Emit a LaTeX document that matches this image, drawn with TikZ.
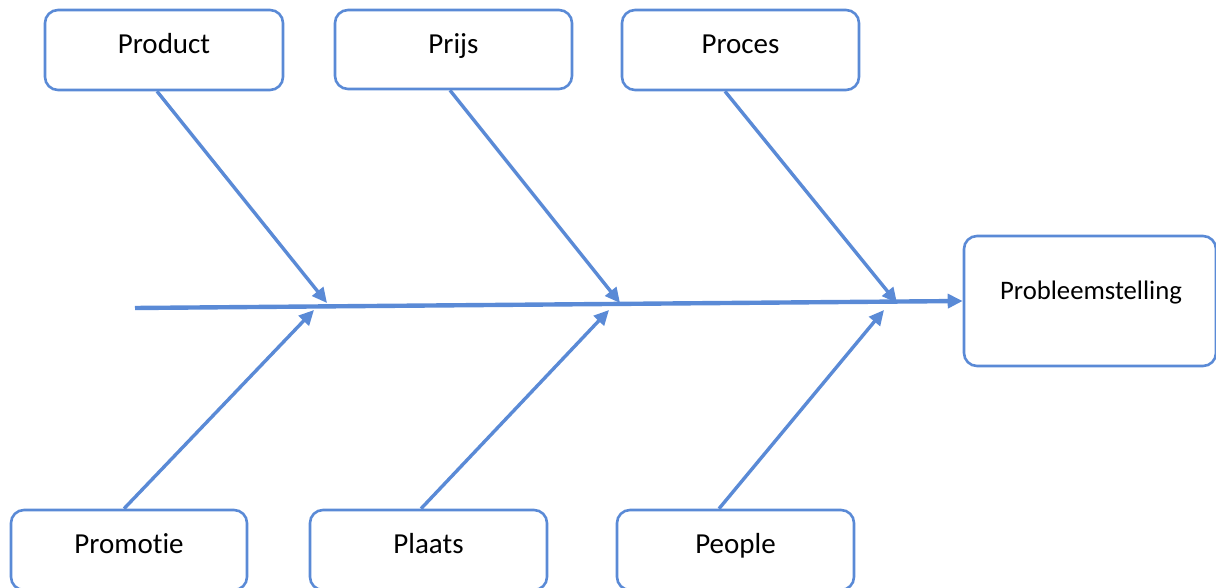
\documentclass[tikz,border=0pt]{standalone}
\usepackage{fontspec}
\setmainfont[Ligatures=NoCommon]{Carlito}
\usetikzlibrary{arrows.meta,calc}
\definecolor{fb}{HTML}{5A8AD6}
\begin{document}
\begin{tikzpicture}[x=1pt,y=1pt,
  catbox/.style={draw=fb,line width=2.6pt,rounded corners=13pt,fill=white},
  lbl/.style={anchor=base,inner sep=0pt,font=\fontsize{29}{34}\selectfont},
  bone/.style={draw=fb,line width=3.4pt,-{Triangle[length=15pt,width=14pt]}},
  spine/.style={draw=fb,line width=4.4pt,-{Triangle[length=15pt,width=14pt]}}]
\useasboundingbox (0,0) rectangle (1216,587);
% boxes (y = 587 - pixel y)
\node[catbox,minimum width=238pt,minimum height=80pt] (prod) at (164,537) {};
\node[lbl] (prodt) at (164,533) {Product};
\node[catbox,minimum width=237pt,minimum height=79pt] (prijs) at (453.5,537.5) {};
\node[lbl] (prijst) at (453.5,533) {Prijs};
\node[catbox,minimum width=237pt,minimum height=80pt] (proc) at (740.5,537) {};
\node[lbl] (proct) at (740.5,533) {Proces};
\node[catbox,minimum width=236pt,minimum height=80pt] (promo) at (129,37) {};
\node[lbl] (promot) at (129,34) {Promotie};
\node[catbox,minimum width=237pt,minimum height=80pt] (plaats) at (428.5,37) {};
\node[lbl] (plaatst) at (428.5,34) {Plaats};
\node[catbox,minimum width=237pt,minimum height=80pt] (people) at (735.5,37) {};
\node[lbl] (peoplet) at (735.5,34) {People};
\node[catbox,minimum width=252pt,minimum height=130pt] (prob) at (1090,286) {};
\node[lbl,font=\fontsize{26.7}{31}\selectfont] (probt) at (1091,287) {Probleemstelling};
% spine
\coordinate (s0) at (135,279);
\draw[spine] (s0) -- (prob.west);
% tips on spine
\coordinate (t1) at (327,284);
\coordinate (t2) at (620,284);
\coordinate (t3) at (897,284);
\coordinate (b1) at (314,277);
\coordinate (b2) at (609,277);
\coordinate (b3) at (884,277);
% bones
\draw[bone] ($(prod.south)+(-7,0)$) -- (t1);
\draw[bone] ($(prijs.south)+(-3.5,0)$) -- (t2);
\draw[bone] ($(proc.south)+(-15.5,0)$) -- (t3);
\draw[bone] ($(promo.north)+(-5,0)$) -- (b1);
\draw[bone] ($(plaats.north)+(-7.5,0)$) -- (b2);
\draw[bone] ($(people.north)+(-16.5,0)$) -- (b3);
\end{tikzpicture}
\end{document}
